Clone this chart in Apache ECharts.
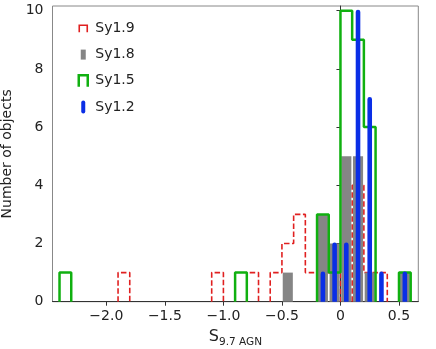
<!DOCTYPE html>
<html>
<head>
<meta charset="utf-8">
<script src="https://cdn.jsdelivr.net/npm/echarts@6/dist/echarts.min.js"></script>
<style>
  html, body { margin: 0; padding: 0; background: #fff; }
  #chart { width: 436px; height: 349px; }
</style>
</head>
<body>
<div id="chart"></div>
<script>
// histogram data, bins are 0.1 wide, values are the left edge of each bin
var binWidth = 0.1;

var sy19Bins   = [-1.9, -1.1, -0.8, -0.6, -0.5, -0.4, -0.3, -0.2, -0.1, 0.1, 0.2, 0.3];
var sy19Counts = [1, 1, 1, 1, 2, 3, 1, 1, 1, 4, 1, 1];

var sy18Bins   = [-0.5, -0.2, -0.1, 0.0, 0.1, 0.2, 0.5];
var sy18Counts = [1, 3, 2, 5, 5, 1, 1];

var sy15Bins   = [-2.4, -0.9, -0.2, -0.1, 0.0, 0.1, 0.2, 0.5];
var sy15Counts = [1, 1, 3, 1, 10, 9, 6, 1];

var sy12Bins   = [-0.2, -0.1, 0.0, 0.1, 0.2, 0.3, 0.5];
var sy12Counts = [1, 2, 2, 10, 7, 1, 1];

var xTicks = [-2.0, -1.5, -1.0, -0.5, 0, 0.5];
var yTicks = [0, 2, 4, 6, 8, 10];

var FONT = 'DejaVu Sans';
var RED = '#e02020', GRAY = '#858585', GREEN = '#10b010', BLUE = '#0a2ee6';

// outline of a step histogram, broken where bins are not adjacent
function stepOutline(bins, counts) {
    var pts = [];
    for (var i = 0; i < bins.length; i++) {
        var left = bins[i], right = bins[i] + binWidth;
        if (i === 0) {
            pts.push([left, 0]);
        } else {
            var prevRight = bins[i - 1] + binWidth;
            if (Math.abs(prevRight - left) > 1e-6) {
                pts.push([prevRight, 0]);
                pts.push(['-', '-']);
                pts.push([left, 0]);
            }
        }
        pts.push([left, counts[i]]);
        pts.push([right, counts[i]]);
    }
    pts.push([bins[bins.length - 1] + binWidth, 0]);
    return pts;
}

function pairs(bins, counts) {
    return bins.map(function (b, i) { return [b, counts[i]]; });
}

var chart = echarts.init(document.getElementById('chart'), null, {renderer: 'canvas'});

var option = {
    animation: false,
    textStyle: {fontFamily: FONT},
    grid: {
        left: 52.5, right: 17.7, top: 6, bottom: 47.3,
        outerBoundsMode: 'none',
        containLabel: false,
        show: true, borderColor: '#888', borderWidth: 1, backgroundColor: 'transparent'
    },
    legend: {
        left: 75, top: 21, orient: 'vertical',
        itemWidth: 14, itemHeight: 14, itemGap: 11,
        padding: 0, selectedMode: false,
        textStyle: {fontSize: 14, color: '#222', fontFamily: FONT},
        data: [
            {name: 'Sy1.9', icon: 'path://M0 0M14 14M3 10.5L3 3.5L11 3.5L11 10.5',
                itemStyle: {color: 'transparent', borderColor: RED, borderWidth: 1.6}},
            {name: 'Sy1.8', icon: 'path://M0 0M14 14M4.5 2L9.5 2L9.5 12L4.5 12Z',
                itemStyle: {color: GRAY, borderWidth: 0}},
            {name: 'Sy1.5', icon: 'path://M0 0M14 14M2.5 13L2.5 1.5L11.5 1.5L11.5 13',
                itemStyle: {color: 'transparent', borderColor: GREEN, borderWidth: 2.5}},
            {name: 'Sy1.2', icon: 'path://M0 0M14 14M5 2.5A2 2 0 0 1 9 2.5L9 11.5A2 2 0 0 1 5 11.5Z',
                itemStyle: {color: BLUE, borderWidth: 0}}
        ]
    },
    xAxis: {
        type: 'value',
        min: -2.46, max: 0.665,
        name: '{s|S}{sub|9.7 AGN}',
        nameLocation: 'middle',
        nameGap: 27,
        nameTextStyle: {
            rich: {
                s: {fontSize: 16, color: '#222', fontFamily: FONT, verticalAlign: 'bottom'},
                sub: {fontSize: 10.5, color: '#222', fontFamily: FONT, verticalAlign: 'bottom', padding: [0, 0, -3, 0]}
            }
        },
        axisLine: {lineStyle: {color: '#333', width: 1}},
        axisTick: {show: true, length: 4, lineStyle: {color: '#333'}, customValues: xTicks},
        axisLabel: {
            fontSize: 14, color: '#222', margin: 8, fontFamily: FONT,
            customValues: xTicks,
            formatter: function (v) {
                if (Math.abs(v) < 1e-9) return '0';
                return (v < 0 ? '\u2212' : '') + Math.abs(v).toFixed(1);
            }
        },
        splitLine: {show: false}
    },
    yAxis: {
        type: 'value',
        min: 0, max: 10.16,
        name: 'Number of objects',
        nameLocation: 'middle',
        nameGap: 31,
        nameTextStyle: {fontSize: 14, color: '#222', fontFamily: FONT},
        axisLine: {show: true, lineStyle: {color: '#333', width: 1}},
        axisTick: {show: true, length: 4, lineStyle: {color: '#333'}, customValues: yTicks},
        axisLabel: {fontSize: 14, color: '#222', margin: 9, fontFamily: FONT, customValues: yTicks},
        splitLine: {show: false}
    },
    series: [
        {
            name: 'Sy1.9',
            type: 'line',
            z: 1,
            data: stepOutline(sy19Bins, sy19Counts),
            showSymbol: false,
            symbol: 'none',
            connectNulls: false,
            color: RED,
            lineStyle: {color: RED, width: 1.6, type: [5.5, 2.5]}
        },
        {
            name: 'Sy1.8',
            type: 'custom',
            z: 2,
            color: GRAY,
            data: pairs(sy18Bins, sy18Counts),
            encode: {x: 0, y: 1},
            renderItem: function (params, api) {
                var left = api.value(0), h = api.value(1);
                var p0 = api.coord([left, h]);
                var p1 = api.coord([left + binWidth, 0]);
                return {
                    type: 'rect',
                    shape: {x: p0[0] + 0.8, y: p0[1], width: p1[0] - p0[0] - 1.6, height: p1[1] - p0[1]},
                    style: {fill: GRAY}
                };
            }
        },
        {
            name: 'Sy1.5',
            type: 'line',
            z: 3,
            data: stepOutline(sy15Bins, sy15Counts),
            showSymbol: false,
            symbol: 'none',
            connectNulls: false,
            color: GREEN,
            lineStyle: {color: GREEN, width: 2.5}
        },
        {
            name: 'Sy1.2',
            type: 'custom',
            z: 4,
            color: BLUE,
            data: pairs(sy12Bins, sy12Counts),
            encode: {x: 0, y: 1},
            renderItem: function (params, api) {
                var mid = api.value(0) + binWidth / 2, h = api.value(1);
                var top = api.coord([mid, h]);
                var base = api.coord([mid, 0]);
                return {
                    type: 'rect',
                    shape: {x: top[0] - 2.3, y: top[1] - 1, width: 4.6, height: base[1] - top[1] + 1, r: [2.3, 2.3, 0, 0]},
                    style: {fill: BLUE}
                };
            }
        }
    ]
};

chart.setOption(option);

window.addEventListener('resize', function () {
    chart.resize();
});
</script>
</body>
</html>
